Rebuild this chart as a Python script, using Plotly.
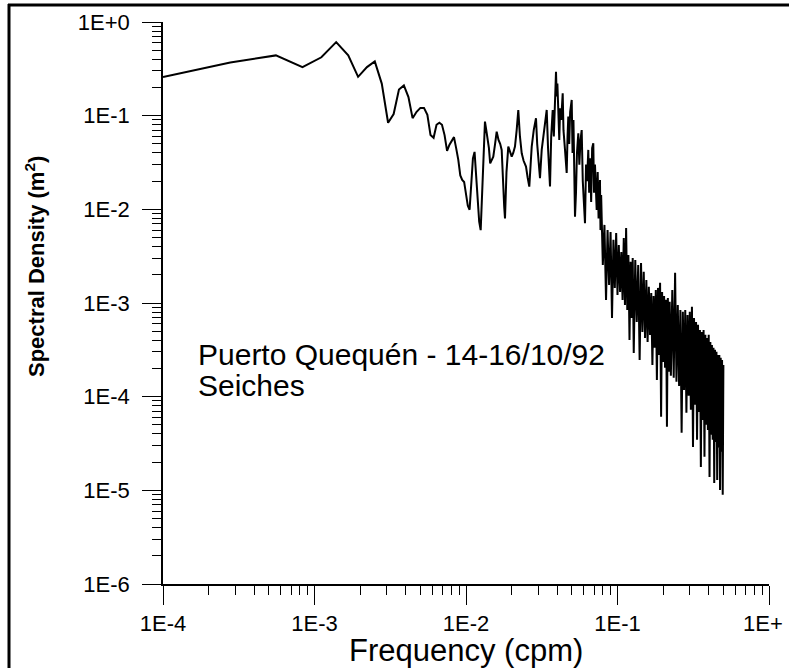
import plotly.graph_objects as go

# ---------------- data ----------------
freq_low = [1.0e-4, 2.78e-4, 5.56e-4, 8.33e-4, 1.11e-3, 1.39e-3, 1.67e-3, 1.94e-3,
            2.22e-3, 2.50e-3, 2.78e-3, 3.06e-3, 3.33e-3, 3.61e-3, 3.89e-3, 4.17e-3,
            4.44e-3, 4.72e-3, 5.00e-3, 5.28e-3, 5.56e-3, 5.83e-3, 6.11e-3, 6.39e-3,
            6.67e-3, 6.94e-3, 7.22e-3, 7.50e-3, 7.78e-3, 8.06e-3, 8.33e-3, 8.61e-3,
            8.89e-3, 9.17e-3, 9.44e-3, 9.72e-3, 1.000e-2, 1.028e-2, 1.056e-2, 1.083e-2,
            1.111e-2, 1.139e-2, 1.167e-2, 1.194e-2, 1.222e-2, 1.250e-2]
dens_low = [0.259, 0.37, 0.44, 0.33, 0.42, 0.61, 0.44, 0.26,
            0.33, 0.38, 0.22, 0.084, 0.104, 0.19, 0.21, 0.158,
            0.094, 0.11, 0.121, 0.121, 0.102, 0.062, 0.058, 0.080,
            0.084, 0.080, 0.062, 0.042, 0.049, 0.055, 0.059, 0.045,
            0.034, 0.023, 0.0206, 0.0196, 0.0143, 0.0109, 0.0099, 0.018,
            0.035, 0.041, 0.023, 0.0111, 0.0074, 0.0060]

freq_mid = [0.01306, 0.01334, 0.01361, 0.01389, 0.01417, 0.01444, 0.01472, 0.01514,
            0.01556, 0.01594, 0.01639, 0.01681, 0.01720, 0.01750, 0.01787, 0.01809,
            0.01850, 0.01902, 0.01944, 0.02003, 0.02050, 0.02105, 0.02160, 0.02214,
            0.02270, 0.02332, 0.02400, 0.02440, 0.02489, 0.02550, 0.02617, 0.02670,
            0.02715, 0.02800, 0.02897, 0.02950, 0.03010, 0.03079, 0.03160, 0.03250,
            0.03330, 0.03410, 0.03480, 0.03530, 0.03585, 0.03650, 0.03700, 0.03735,
            0.03800, 0.03870, 0.03927, 0.0397, 0.0401, 0.04066, 0.04128, 0.0418,
            0.0425, 0.04348, 0.0440, 0.04503, 0.0462, 0.0468, 0.04734, 0.0480,
            0.0487, 0.04985, 0.0505, 0.0512, 0.05242, 0.0532, 0.0540, 0.05512,
            0.0560, 0.0570, 0.05803, 0.0590, 0.06101, 0.0620, 0.0630, 0.06415,
            0.0650, 0.0660, 0.0670, 0.06800, 0.06922, 0.0700, 0.0710, 0.07288,
            0.0740, 0.07500, 0.07662, 0.0772]
dens_mid = [0.040, 0.0863, 0.070, 0.0551, 0.045, 0.0310, 0.0330, 0.0365,
            0.050, 0.0675, 0.055, 0.050, 0.0431, 0.020, 0.0107, 0.0080,
            0.025, 0.0467, 0.042, 0.0365, 0.040, 0.0467, 0.070, 0.115,
            0.060, 0.0397, 0.033, 0.030, 0.0286, 0.022, 0.0175, 0.030,
            0.0467, 0.070, 0.0938, 0.050, 0.030, 0.0215, 0.0431, 0.060,
            0.080, 0.115, 0.045, 0.025, 0.0175, 0.060, 0.090, 0.115,
            0.060, 0.150, 0.295, 0.16, 0.22, 0.115, 0.0551, 0.12,
            0.090, 0.173, 0.070, 0.0431, 0.0245, 0.060, 0.0976, 0.050,
            0.110, 0.147, 0.040, 0.090, 0.00836, 0.015, 0.040, 0.0649,
            0.030, 0.055, 0.0703, 0.020, 0.00711, 0.030, 0.020, 0.0431,
            0.015, 0.035, 0.012, 0.045, 0.0508, 0.015, 0.030, 0.00986,
            0.025, 0.008, 0.0206, 0.006]

freq_high = [0.078, 0.080, 0.082, 0.084, 0.086, 0.088, 0.090, 0.092, 0.094, 0.096,
             0.098, 0.100, 0.102, 0.104, 0.106, 0.108, 0.110, 0.112, 0.114, 0.116,
             0.118, 0.120, 0.122, 0.124, 0.126, 0.128,
             0.131, 0.134, 0.137, 0.140, 0.143, 0.146, 0.149, 0.152, 0.155, 0.158,
             0.161, 0.164, 0.167, 0.170, 0.173, 0.176, 0.179, 0.182, 0.185, 0.188,
             0.191, 0.194, 0.197, 0.200, 0.203, 0.206, 0.209, 0.212, 0.215, 0.218,
             0.221,
             0.225, 0.230, 0.235, 0.240, 0.245, 0.250, 0.255, 0.260, 0.265, 0.270,
             0.275, 0.280, 0.285, 0.290, 0.295, 0.300, 0.305, 0.310, 0.315, 0.320,
             0.325, 0.330, 0.335, 0.340, 0.345, 0.350, 0.355, 0.360, 0.365, 0.370,
             0.375, 0.380, 0.385, 0.390, 0.395, 0.400, 0.405, 0.410, 0.415, 0.420,
             0.425, 0.430, 0.435, 0.440, 0.445, 0.450, 0.455, 0.460, 0.465, 0.470,
             0.475, 0.480, 0.485, 0.490, 0.495, 0.500]
dens_high = [1.42e-2, 2.55e-3, 6.82e-3, 1.08e-3, 6.03e-3, 1.56e-3, 5.74e-3, 6.93e-4, 4.72e-3, 1.45e-3,
             5.60e-3, 1.22e-3, 4.17e-3, 1.31e-3, 3.51e-3, 1.08e-3, 4.95e-3, 9.54e-4, 6.33e-3, 8.44e-4,
             3.26e-3, 4.04e-4, 2.75e-3, 6.93e-4, 3.03e-3, 2.93e-4,
             2.88e-3, 6.28e-4, 2.55e-3, 2.47e-4, 2.68e-3, 4.91e-4, 2.15e-3, 4.24e-4, 1.76e-3, 3.84e-4,
             1.49e-3, 4.57e-4, 1.28e-3, 2.18e-4, 1.19e-3, 3.32e-4, 1.38e-3, 1.51e-4, 1.45e-3, 2.79e-4,
             1.64e-3, 6.09e-5, 1.31e-3, 2.35e-4, 1.19e-3, 2.03e-4, 1.08e-3, 4.76e-5, 1.13e-3, 1.84e-4,
             1.03e-3,
             1.67e-4, 1.38e-3, 1.59e-4, 2.10e-3, 1.44e-4, 9.54e-4, 1.30e-4, 8.44e-4, 4.11e-5, 8.04e-4,
             1.18e-4, 8.44e-4, 6.72e-5, 7.46e-4, 1.02e-4, 8.04e-4, 7.23e-5, 9.09e-4, 2.91e-5, 6.93e-4,
             8.18e-5, 6.28e-4, 3.46e-5, 5.84e-4, 6.88e-5, 5.16e-4, 1.78e-5, 4.91e-4, 5.65e-5, 5.16e-4,
             2.28e-5, 4.57e-4, 5.00e-5, 4.24e-4, 4.42e-5, 4.57e-4, 1.39e-5, 3.84e-4, 3.91e-5, 3.57e-4,
             3.46e-5, 3.32e-4, 1.20e-5, 3.16e-4, 3.29e-5, 3.01e-4, 1.29e-5, 2.79e-4, 2.84e-5, 2.79e-4,
             1.01e-5, 2.60e-4, 2.58e-5, 2.47e-4, 8.95e-6, 2.18e-4]

freq = freq_low + freq_mid + freq_high
density = dens_low + dens_mid + dens_high

x_ticks = [1e-4, 1e-3, 1e-2, 1e-1, 1e0]
x_labels = ["1E-4", "1E-3", "1E-2", "1E-1", "1E+&nbsp;&nbsp;"]
y_ticks = [1e-6, 1e-5, 1e-4, 1e-3, 1e-2, 1e-1, 1e0]
y_labels = ["1E-6", "1E-5", "1E-4", "1E-3", "1E-2", "1E-1", "1E+0"]

site_label = "Puerto Quequén - 14-16/10/92"
kind_label = "Seiches"
x_title = "Frequency (cpm)"
y_title = "<b>Spectral Density (m<sup>2</sup>)</b>"

# ---------------- figure ----------------
FONT = "Liberation Sans, Arial, sans-serif"
W, H = 789, 668
L, R, T, B = 163, 20, 22, 84
PW, PH = W - L - R, H - T - B


def px(xp):
    return (xp - L) / PW


def py(yp):
    return (H - B - yp) / PH


fig = go.Figure()
fig.add_trace(go.Scatter(x=freq, y=density, mode="lines",
                         line=dict(color="black", width=2), showlegend=False,
                         hoverinfo="skip"))

axis_common = dict(
    showgrid=False, zeroline=False, showline=True, linecolor="black", linewidth=1.5,
    ticks="outside", ticklen=19, tickwidth=1.3, tickcolor="black",
    tickfont=dict(family=FONT, size=22, color="black"),
    minor=dict(ticks="outside", ticklen=9, tickwidth=1.1, tickcolor="black",
               dtick="D1", showgrid=False),
    mirror=False, automargin=False, ticklabeloverflow="allow",
)

fig.update_xaxes(type="log", range=[-4, 0], tickmode="array", tickvals=x_ticks,
                 ticktext=x_labels, **axis_common)
fig.update_yaxes(type="log", range=[-6, 0], tickmode="array", tickvals=y_ticks,
                 ticktext=y_labels, ticklabelstandoff=8, **axis_common)

fig.add_annotation(x=px(196), y=py(355), xref="paper", yref="paper", text=site_label,
                   showarrow=False, xanchor="left", yanchor="middle",
                   font=dict(family=FONT, size=30, color="black"))
fig.add_annotation(x=px(196), y=py(385), xref="paper", yref="paper", text=kind_label,
                   showarrow=False, xanchor="left", yanchor="middle",
                   font=dict(family=FONT, size=30, color="black"))
fig.add_annotation(x=0.5, y=py(650), xref="paper", yref="paper", text=x_title,
                   showarrow=False, xanchor="center", yanchor="middle",
                   font=dict(family=FONT, size=31, color="black"))
fig.add_annotation(x=px(35), y=py(267), xref="paper", yref="paper", text=y_title,
                   showarrow=False, xanchor="center", yanchor="middle", textangle=-90,
                   font=dict(family=FONT, size=22, color="black"))

# page frame (top and left edges of the scanned figure)
fig.add_shape(type="line", xref="paper", yref="paper", x0=px(8), x1=px(W + 5),
              y0=py(5), y1=py(5), line=dict(color="black", width=3))
fig.add_shape(type="line", xref="paper", yref="paper", x0=px(9), x1=px(9),
              y0=py(4), y1=py(H + 5), line=dict(color="black", width=3))

fig.update_layout(width=W, height=H, margin=dict(l=L, r=R, t=T, b=B, autoexpand=False),
                  paper_bgcolor="white", plot_bgcolor="white")

fig.write_html("out.html")
